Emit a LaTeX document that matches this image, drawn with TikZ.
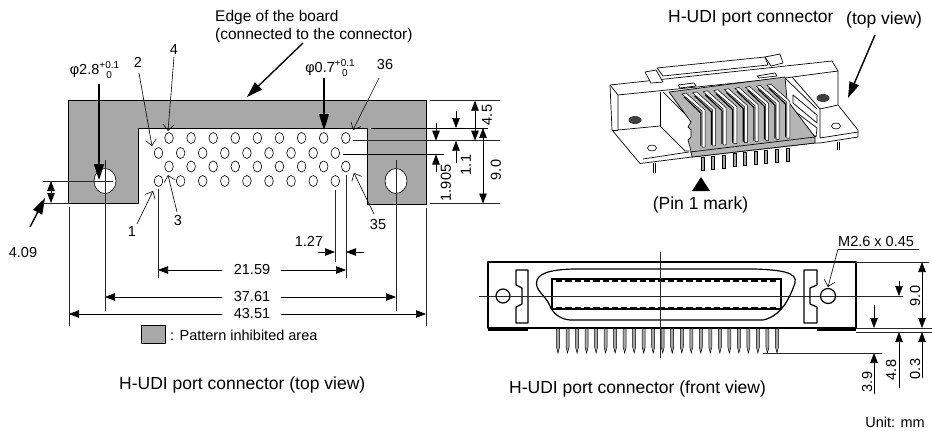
\documentclass[tikz,border=0pt]{standalone}
\usepackage{fontspec}
\setmainfont{Liberation Sans}
\usepackage{xcolor}
\usetikzlibrary{arrows.meta, positioning}
\definecolor{inhibit}{gray}{0.66}
\newcommand{\tolstack}[2]{\raisebox{-3.5pt}{\fontsize{10}{10}\selectfont\shortstack[c]{#1\\#2}}}

\begin{document}
\begin{tikzpicture}[
    x=1pt, y=-1pt,
    lbl/.style={font=\fontsize{14.5}{18}\selectfont, inner sep=0pt, align=left},
    caption/.style={font=\fontsize{17.5}{20}\selectfont, inner sep=0pt},
    rotlbl/.style={lbl, rotate=90},
    extline/.style={line width=0.7pt, black!85},
    dimarrow/.style={line width=0.7pt, -{Triangle[length=10pt,width=7.5pt]}},
    dimboth/.style={line width=0.7pt, {Triangle[length=10pt,width=7.5pt]}-{Triangle[length=10pt,width=7.5pt]}},
    heavyarrow/.style={line width=1.4pt, -{Triangle[length=16pt,width=10pt]}},
    leader/.style={line width=0.6pt, -{Straight Barb[length=6pt,width=11pt]}},
    pinhole/.style={draw, line width=0.6pt, fill=white},
    outline/.style={line width=0.7pt, line join=round},
    frontline/.style={line width=1.2pt, line join=round}
]
\useasboundingbox (0,0) rectangle (932,431);

% Pattern inhibited area
\draw[outline, fill=inhibit] (68,100) -- (426,100) -- (426,204) -- (367,204) -- (367,128)
    -- (138,128) -- (138,203) -- (68,203) -- cycle;
\draw[pinhole] (105,181) ellipse [x radius=11, y radius=12.5];
\draw[pinhole] (396,181) ellipse [x radius=11, y radius=12.5];

% Pin holes
\foreach \i in {0,...,8} {
    \draw[pinhole] (169+22.1*\i,138) ellipse [x radius=4.3, y radius=5.5];
    \draw[pinhole] (158.5+22.1*\i,153) ellipse [x radius=4.3, y radius=5.5];
    \draw[pinhole] (169+22.1*\i,166.5) ellipse [x radius=4.3, y radius=5.5];
    \draw[pinhole] (158.5+22.1*\i,181) ellipse [x radius=4.3, y radius=5.5];
}

% Board labels
\node[lbl, font=\fontsize{15.5}{18}\selectfont, anchor=west] (edgetext) at (215,26) {Edge of the board\\(connected to the connector)};
\node[lbl] (holeleft) at (94.5,70) {φ2.8\tolstack{+0.1}{0}};
\node[lbl] (holesmall) at (330,68) {φ0.7\tolstack{+0.1}{0}};
\node[lbl] (pintwo) at (138,62) {2};
\node[lbl] (pinfour) at (174,50) {4};
\node[lbl] (pinthree) at (178,221) {3};
\node[lbl] (pinone) at (132,232) {1};
\node[lbl] (pinlast) at (385,65) {36};
\node[lbl] (pinnext) at (378,225) {35};
\node[lbl] (dimhole) at (23,253) {4.09};
\node[lbl] (dimpitch) at (309,241) {1.27};
\node[lbl] (dimpins) at (252,270) {21.59};
\node[lbl] (dimholes) at (252,297) {37.61};
\node[lbl] (dimboard) at (252,314) {43.51};
\node[rotlbl] (dimrow) at (446,183) {1.905};
\node[rotlbl] (dimone) at (466,165) {1.1};
\node[rotlbl] (dimfour) at (487,115) {4.5};
\node[rotlbl] (dimnine) at (496,170) {9.0};
\node[caption, anchor=west] (topcaption) at (119,385) {H-UDI port connector (top view)};

% Legend
\draw[outline, fill=inhibit] (141,325) rectangle (165,343);
\node[lbl, anchor=west] (legendtext) at (170,335) {: Pattern inhibited area};

% Leaders
\draw[heavyarrow] (303,43) -- (247,97);
\draw[heavyarrow] (99,84) -- (99,180);
\draw[heavyarrow] (324,78) -- (324,130);
\draw[heavyarrow] (30,227) -- (45,198);
\draw[leader] (139,73) -- (152,146);
\draw[leader] (174,57) -- (168,131);
\draw[leader] (177,212) -- (168,175);
\draw[leader] (137,224) -- (153,191);
\draw[leader] (379,78) -- (353,130);
\draw[leader] (374,214) -- (354,173);

% Extension lines, board
\draw[extline] (43,181) -- (113,181);
\draw[extline] (43,203) -- (68,203);
\draw[extline] (105,160) -- (105,311);
\draw[extline] (396,160) -- (396,311);
\draw[extline] (69,207) -- (69,326);
\draw[extline] (426,208) -- (426,326);
\draw[extline] (158,189) -- (158,278);
\draw[extline] (335,190) -- (335,262);
\draw[extline] (346,175) -- (346,278);
\draw[extline] (430,100.7) -- (500,100.7);
\draw[line width=1pt] (371,128) -- (488,128);
\draw[extline] (353,140.7) -- (500,140.7);
\draw[line width=1pt] (343,154.5) -- (444,154.5);
\draw[extline] (430,203.5) -- (500,203.5);

% Dimensions, board
\draw[dimboth] (51,181) -- (51,203);
\draw[dimarrow] (222,270) -- (158,270);
\draw[dimarrow] (281,270) -- (346,270);
\draw[dimarrow] (222,297) -- (105,297);
\draw[dimarrow] (281,297) -- (396,297);
\draw[dimarrow] (222,314) -- (69,314);
\draw[dimarrow] (281,314) -- (426,314);
\draw[dimarrow] (318,252) -- (335,252);
\draw[dimarrow] (364,252) -- (346,252);
\draw[dimarrow] (436,123) -- (436,140.7);
\draw[dimarrow] (436,172) -- (436,154.5);
\draw[dimarrow] (456,111) -- (456,128);
\draw[dimarrow] (456,163) -- (456,140.7);
\draw[dimboth] (475,100.7) -- (475,140.7);
\draw[dimboth] (483,128) -- (483,203.5);

% Perspective view, labels
\node[caption, anchor=west] (isotitle) at (668,18) {H-UDI port connector};
\node[caption, anchor=west] (isoview) at (846,20) {(top view)};
\node[caption] (pinmark) at (700.5,205) {(Pin 1 mark)};
\coordinate (marktip) at (701,177);
\fill (marktip) -- (710,191) -- (692,191) -- cycle;
\draw[heavyarrow] (875,35) -- (848,98);

% Perspective view, body
\draw[outline, fill=white] (610,85) -- (832,61) -- (838,71) -- (838,105) -- (858,130) -- (858,137)
    -- (820,143) -- (815,143) -- (692,157) -- (640,163.5) -- (612,130) -- cycle;
\draw[outline] (610,85) -- (618,95) -- (785,78) -- (838,71);
\draw[outline] (618,95) -- (618,130) -- (660,126) -- (685,151) -- (689,151);
\draw[outline] (612,130) -- (618,130);
\draw[outline] (660,91.5) -- (660,126);
\draw[outline] (663,92) -- (692,121);
\draw[outline] (643,159) -- (689,152);
\draw[outline] (820,109) -- (838,105);
\draw[outline] (820,109) -- (820,138) -- (858,132);
\draw[outline] (785,78) -- (817,109);
\draw[outline] (792,77) -- (820,109);
\draw[outline, fill=white] (657,68) -- (765,57) -- (768,65) -- (663,76) -- cycle;
\draw[outline, fill=white] (645,72) -- (656,70) -- (663,82) -- (651,83) -- cycle;
\draw[outline, fill=white] (765,57) -- (780,54) -- (783,63) -- (771,66) -- cycle;
\draw[outline, fill=white] (678,85) -- (694,83) -- (696,86) -- (680,88) -- cycle;
\draw[outline, fill=white] (757,76) -- (775,73) -- (777,76) -- (759,78) -- cycle;
\draw[outline, fill=white] (793,95) -- (817,115) -- (817,123) -- (793,103) -- cycle;
\draw[outline, fill=white] (793,110) -- (817,128) -- (816,137) -- (793,118) -- cycle;
\draw[pinhole] (652,148) ellipse [x radius=4.5, y radius=3];
\draw[pinhole] (836,126) ellipse [x radius=4.5, y radius=3];
\fill[black!75] (635,120) ellipse [x radius=6.5, y radius=4];
\fill[black!75] (823,98) ellipse [x radius=6.5, y radius=4];
\draw[outline] (653,163) -- (653,173) (655,163) -- (655,173);
\draw[outline] (837,142) -- (837,150) (839,142) -- (839,150);

% Perspective view, contact area
\draw[outline, fill=inhibit!85] (669,92) -- (785,77) -- (787,100) -- (815,137) -- (815,143) -- (692,157)
    -- (690,147) -- (688,140) -- (691,137) -- (691,130) -- (688,127) -- (691,122) -- cycle;
\draw[outline] (690,152) -- (815,137);
\foreach \i in {0,...,8} {
    \pgfmathsetmacro{\xb}{702+10.6*\i}
    \pgfmathsetmacro{\yb}{147-1.1*\i}
    \draw[line width=0.5pt, fill=white] (\xb,\yb) -- (\xb,\yb-36) -- (\xb-20,\yb-53) -- (\xb-16,\yb-54)
        -- (\xb+3,\yb-37) -- (\xb+3,\yb) -- cycle;
    \draw[line width=1.1pt] (\xb-1.2,\yb-1) -- (\xb-1.2,\yb-34) -- (\xb-18,\yb-50);
    \draw[line width=0.5pt, fill=black!35] (\xb-1,\yb+10) -- (\xb-1,\yb+23) -- (\xb+2,\yb+23) -- (\xb+2,\yb+10) -- cycle;
}

% Front view, body
\draw[frontline] (488,328) -- (488,262) -- (856,262) -- (856,328) -- cycle;
\draw[line width=2.5pt] (488,330) -- (528,330);
\draw[line width=2.5pt] (817,330) -- (856,330);
\draw[frontline] (516,270) -- (528,270) -- (528,323) -- (516,323) -- (516,307) -- (522,304)
    -- (522,288) -- (516,285) -- cycle;
\draw[frontline] (804,270) -- (817,270) -- (817,285) -- (810,288) -- (810,304) -- (817,307)
    -- (817,323) -- (804,323) -- cycle;
\draw[frontline] (577,269) -- (755,269) .. controls (780,270) and (798,272) .. (795,283)
    .. controls (790,297) and (782,316) .. (763,320) -- (570,320)
    .. controls (560,319) and (553,314) .. (549,304) .. controls (545,295) and (534,290) .. (537,280)
    .. controls (540,271) and (560,269) .. (577,269) -- cycle;
\draw[line width=2pt, fill=white] (552,279) -- (781,279) -- (781,309) -- (552,309) -- cycle;
\draw[line width=2pt, dash pattern=on 6.3pt off 3pt] (556,280.5) -- (778,280.5);
\draw[line width=2pt, dash pattern=on 6.3pt off 3pt] (556,308) -- (778,308);
\draw[pinhole, line width=1.2pt] (503,296) circle [radius=7];
\draw[pinhole, line width=1.2pt] (828,296) circle [radius=7.5];
\foreach \i in {0,...,23} {
    \draw[line width=0.5pt, fill=black!35] (558+9.52*\i-1.5,329) -- (558+9.52*\i-1.5,347) -- (558+9.52*\i,353)
        -- (558+9.52*\i+1.5,347) -- (558+9.52*\i+1.5,329);
}
\draw[extline] (479,296) -- (903,296);
\draw[extline] (660,252) -- (660,358);

% Front view, dimensions
\node[lbl, anchor=west] (threadtext) at (838,242) {M2.6 x 0.45};
\coordinate (threadend) at (838,249);
\draw[extline] (threadend) -- (919,249);
\draw[leader] (threadend) -- (828,287);
\draw[extline] (856,262) -- (929,262);
\draw[extline] (856,328) -- (932,328);
\draw[extline] (856,332) -- (932,332);
\draw[extline] (763,353) -- (882,353);
\draw[dimboth] (922,262) -- (922,328);
\draw[dimarrow] (922,378) -- (922,332);
\draw[dimarrow] (899,281) -- (899,296);
\draw[dimarrow] (899,388) -- (899,332);
\draw[dimarrow] (874,305) -- (874,328);
\draw[dimarrow] (874,394) -- (874,353);
\node[rotlbl] (dimwidth) at (915,296) {9.0};
\node[rotlbl] (dimtail) at (915,369) {0.3};
\node[rotlbl] (dimreach) at (891,370) {4.8};
\node[rotlbl] (dimpin) at (867,382) {3.9};
\node[caption, anchor=west] (frontcaption) at (509,389) {H-UDI port connector (front view)};
\node[lbl, anchor=east] (unittext) at (925,422) {Unit: mm};
\end{tikzpicture}
\end{document}
